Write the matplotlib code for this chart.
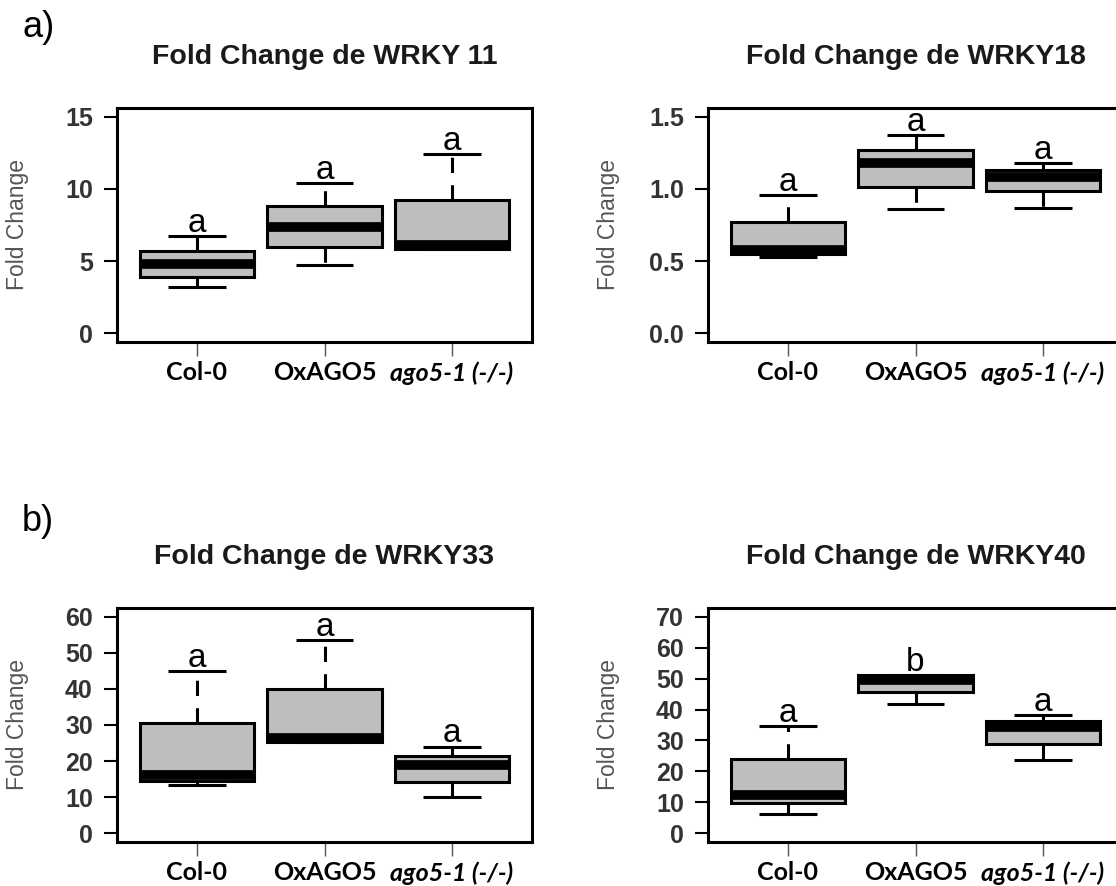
import matplotlib.pyplot as plt

plt.rcParams['font.family'] = ['Liberation Sans', 'DejaVu Sans']

# grupos (eixo x)
groups = ["Col-0", "OxAGO5", "ago5-1 (-/-)"]

# WRKY 11
w11_lo = [3.24, 4.74, 5.83]
w11_q1 = [3.91, 5.95, 5.83]
w11_med = [4.81, 7.36, 6.13]
w11_q3 = [5.72, 8.84, 9.26]
w11_hi = [6.76, 10.42, 12.43]
w11_let = ["a", "a", "a"]

# WRKY18
w18_lo = [0.530, 0.859, 0.870]
w18_q1 = [0.549, 1.015, 0.985]
w18_med = [0.580, 1.179, 1.082]
w18_q3 = [0.773, 1.269, 1.131]
w18_hi = [0.958, 1.373, 1.181]
w18_let = ["a", "a", "a"]

# WRKY33
w33_lo = [13.3, 25.2, 10.1]
w33_q1 = [14.5, 25.2, 14.1]
w33_med = [16.1, 26.4, 18.8]
w33_q3 = [30.5, 39.9, 21.4]
w33_hi = [45.0, 53.5, 24.0]
w33_let = ["a", "a", "a"]

# WRKY40
w40_lo = [6.1, 41.8, 23.7]
w40_q1 = [9.8, 45.8, 28.9]
w40_med = [12.5, 49.5, 34.3]
w40_q3 = [23.9, 51.1, 36.4]
w40_hi = [34.7, 51.1, 38.2]
w40_let = ["a", "b", "a"]

W, H = 1116, 886
fig = plt.figure(figsize=(W / 100, H / 100), dpi=100)


def add_ax(x0, y0, x1, y1):
    return fig.add_axes([x0 / W, 1 - y1 / H, (x1 - x0) / W, (y1 - y0) / H])


panels = [
    ("WRKY 11", (w11_lo, w11_q1, w11_med, w11_q3, w11_hi), w11_let,
     (-0.6, 15.6), [0, 5, 10, 15], ["0", "5", "10", "15"], (117, 108, 532, 342)),
    ("WRKY18", (w18_lo, w18_q1, w18_med, w18_q3, w18_hi), w18_let,
     (-0.06, 1.56), [0, 0.5, 1.0, 1.5], ["0.0", "0.5", "1.0", "1.5"], (708, 108, 1123, 342)),
    ("WRKY33", (w33_lo, w33_q1, w33_med, w33_q3, w33_hi), w33_let,
     (-2.4, 62.4), list(range(0, 61, 10)), [str(v) for v in range(0, 61, 10)], (117, 608, 532, 842)),
    ("WRKY40", (w40_lo, w40_q1, w40_med, w40_q3, w40_hi), w40_let,
     (-2.8, 72.8), list(range(0, 71, 10)), [str(v) for v in range(0, 71, 10)], (708, 608, 1123, 842)),
]

for gene, (lo, q1, med, q3, hi), letters, ylim, yt, ytl, rect in panels:
    ax = add_ax(*rect)
    stats = [dict(whislo=lo[i], q1=q1[i], med=med[i], q3=q3[i], whishi=hi[i], fliers=[])
             for i in range(3)]
    ax.bxp(stats, positions=[1, 2, 3], widths=0.9, capwidths=0.45,
           patch_artist=True, showfliers=False,
           boxprops=dict(facecolor="#bebebe", edgecolor="black", linewidth=2.2),
           medianprops=dict(color="black", linewidth=7, solid_capstyle="butt"),
           whiskerprops=dict(color="black", linewidth=2.2, linestyle=(0, (5, 4))),
           capprops=dict(color="black", linewidth=2.2, solid_capstyle="butt"))
    ax.set_xlim(0.373, 3.627)
    ax.set_ylim(*ylim)

    ax.set_xticks([1, 2, 3])
    ax.set_xticklabels(groups)
    for i, t in enumerate(ax.get_xticklabels()):
        t.set_family(["Lato", "DejaVu Sans"])
        t.set_fontweight("bold")
        t.set_fontsize(18)
        if i == 2:
            t.set_style("italic")
    ax.tick_params(axis="x", length=10, width=1, color="#555555", pad=4)

    ax.set_yticks(yt)
    ax.set_yticklabels(ytl, fontweight="bold", fontsize=18, color="#333333",
                       family=["Liberation Sans Narrow", "Liberation Sans"])
    ax.tick_params(axis="y", length=9.4, width=1.5, pad=8)

    for s in ax.spines.values():
        s.set_linewidth(2.2)

    ax.set_ylabel("Fold Change", fontsize=16.5, color="#555555")
    ax.yaxis.set_label_coords(-0.213, 0.5)
    ax.set_title(f"Fold Change de {gene}", fontsize=20.5, fontweight="bold",
                 color="#1a1a1a", pad=32)

    for i, l in enumerate(letters):
        ax.annotate(l, xy=(i + 1, hi[i]), xytext=(0, 3), textcoords="offset points",
                    ha="center", va="baseline", fontsize=24)

fig.text(22 / W, 1 - 37 / H, "a)", fontsize=26, ha="left", va="baseline")
fig.text(22 / W, 1 - 531 / H, "b)", fontsize=26, ha="left", va="baseline")

fig.savefig("out.png", dpi=100)
